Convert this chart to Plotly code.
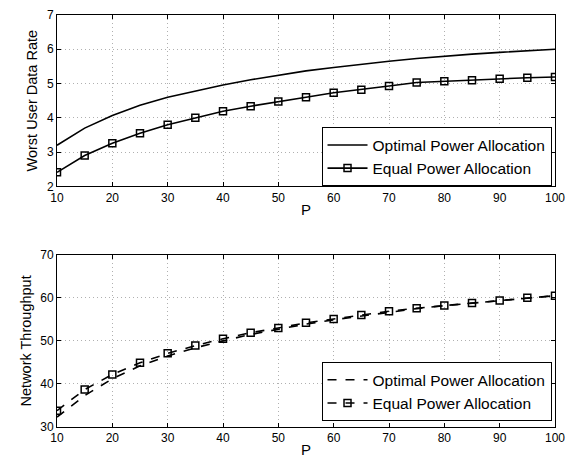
import plotly.graph_objects as go

P = [10, 15, 20, 25, 30, 35, 40, 45, 50, 55, 60, 65, 70, 75, 80, 85, 90, 95, 100]

rate_opt = [3.2, 3.7, 4.07, 4.37, 4.6, 4.79, 4.96, 5.11, 5.25, 5.37, 5.47, 5.57, 5.65, 5.73, 5.8, 5.86, 5.91, 5.96, 6.0]
rate_eq = [2.41, 2.9, 3.26, 3.55, 3.8, 4.0, 4.19, 4.34, 4.48, 4.6, 4.73, 4.82, 4.93, 5.03, 5.07, 5.1, 5.14, 5.17, 5.19]

thr_opt = [32.3, 37.3, 41.2, 44.2, 46.5, 48.4, 50.0, 51.5, 52.7, 53.9, 54.9, 55.8, 56.7, 57.5, 58.2, 58.8, 59.4, 60.0, 60.5]
thr_eq = [33.8, 38.7, 42.2, 44.9, 47.1, 48.9, 50.5, 51.9, 53.0, 54.2, 55.1, 56.0, 56.9, 57.6, 58.2, 58.8, 59.4, 60.0, 60.5]

x_ticks = [10, 20, 30, 40, 50, 60, 70, 80, 90, 100]
y1_ticks = [2, 3, 4, 5, 6, 7]
y2_ticks = [30, 40, 50, 60, 70]

FONT = "Liberation Sans, Arial, Helvetica, sans-serif"

fig = go.Figure()
fig.add_trace(go.Scatter(x=P, y=rate_opt, mode="lines", name="Optimal Power Allocation",
                         line=dict(color="black", width=1.6), xaxis="x", yaxis="y", legend="legend"))
fig.add_trace(go.Scatter(x=P, y=rate_eq, mode="lines+markers", name="Equal Power Allocation",
                         line=dict(color="black", width=1.6),
                         marker=dict(symbol="square-open", size=7, color="black", line=dict(width=1.5)),
                         xaxis="x", yaxis="y", legend="legend"))
fig.add_trace(go.Scatter(x=P, y=thr_opt, mode="lines", name="Optimal Power Allocation",
                         line=dict(color="black", width=1.6, dash="dash"), xaxis="x2", yaxis="y2", legend="legend2"))
fig.add_trace(go.Scatter(x=P, y=thr_eq, mode="lines+markers", name="Equal Power Allocation",
                         line=dict(color="black", width=1.6, dash="dash"),
                         marker=dict(symbol="square-open", size=7, color="black", line=dict(width=1.5)),
                         xaxis="x2", yaxis="y2", legend="legend2"))

axis_common = dict(showline=True, linecolor="black", linewidth=1, mirror="allticks",
                   ticks="inside", ticklen=4, tickcolor="black",
                   showgrid=True, gridcolor="#b0b0b0", griddash="1px,3px", gridwidth=1,
                   zeroline=False, tickfont=dict(family=FONT, size=12, color="black"))

fig.update_layout(
    width=574, height=464,
    margin=dict(l=57, r=19, t=8, b=33),
    paper_bgcolor="white", plot_bgcolor="white",
    font=dict(family=FONT, size=13, color="black"),
    xaxis=dict(domain=[0, 1], anchor="y", range=[10, 100], tickvals=x_ticks,
               title=dict(text="P", standoff=0, font=dict(size=15)), **axis_common),
    yaxis=dict(domain=[0.584, 1], anchor="x", range=[2, 7], tickvals=y1_ticks,
               title=dict(text="Worst User Data Rate", standoff=5, font=dict(size=14.5)), **axis_common),
    xaxis2=dict(domain=[0, 1], anchor="y2", range=[10, 100], tickvals=x_ticks,
                title=dict(text="P", standoff=0, font=dict(size=15)), **axis_common),
    yaxis2=dict(domain=[0, 0.418], anchor="x2", range=[30, 70], tickvals=y2_ticks,
                title=dict(text="Network Throughput", standoff=5, font=dict(size=14.5)), **axis_common),
    legend=dict(x=0.993, y=0.584, xanchor="right", yanchor="bottom", bgcolor="white",
                bordercolor="black", borderwidth=1, font=dict(size=15.5), tracegroupgap=0,
                itemwidth=40),
    legend2=dict(x=0.993, y=0.014, xanchor="right", yanchor="bottom", bgcolor="white",
                 bordercolor="black", borderwidth=1, font=dict(size=15.5), tracegroupgap=0,
                 itemwidth=40),
    showlegend=True,
)

fig.write_html("out.html")
